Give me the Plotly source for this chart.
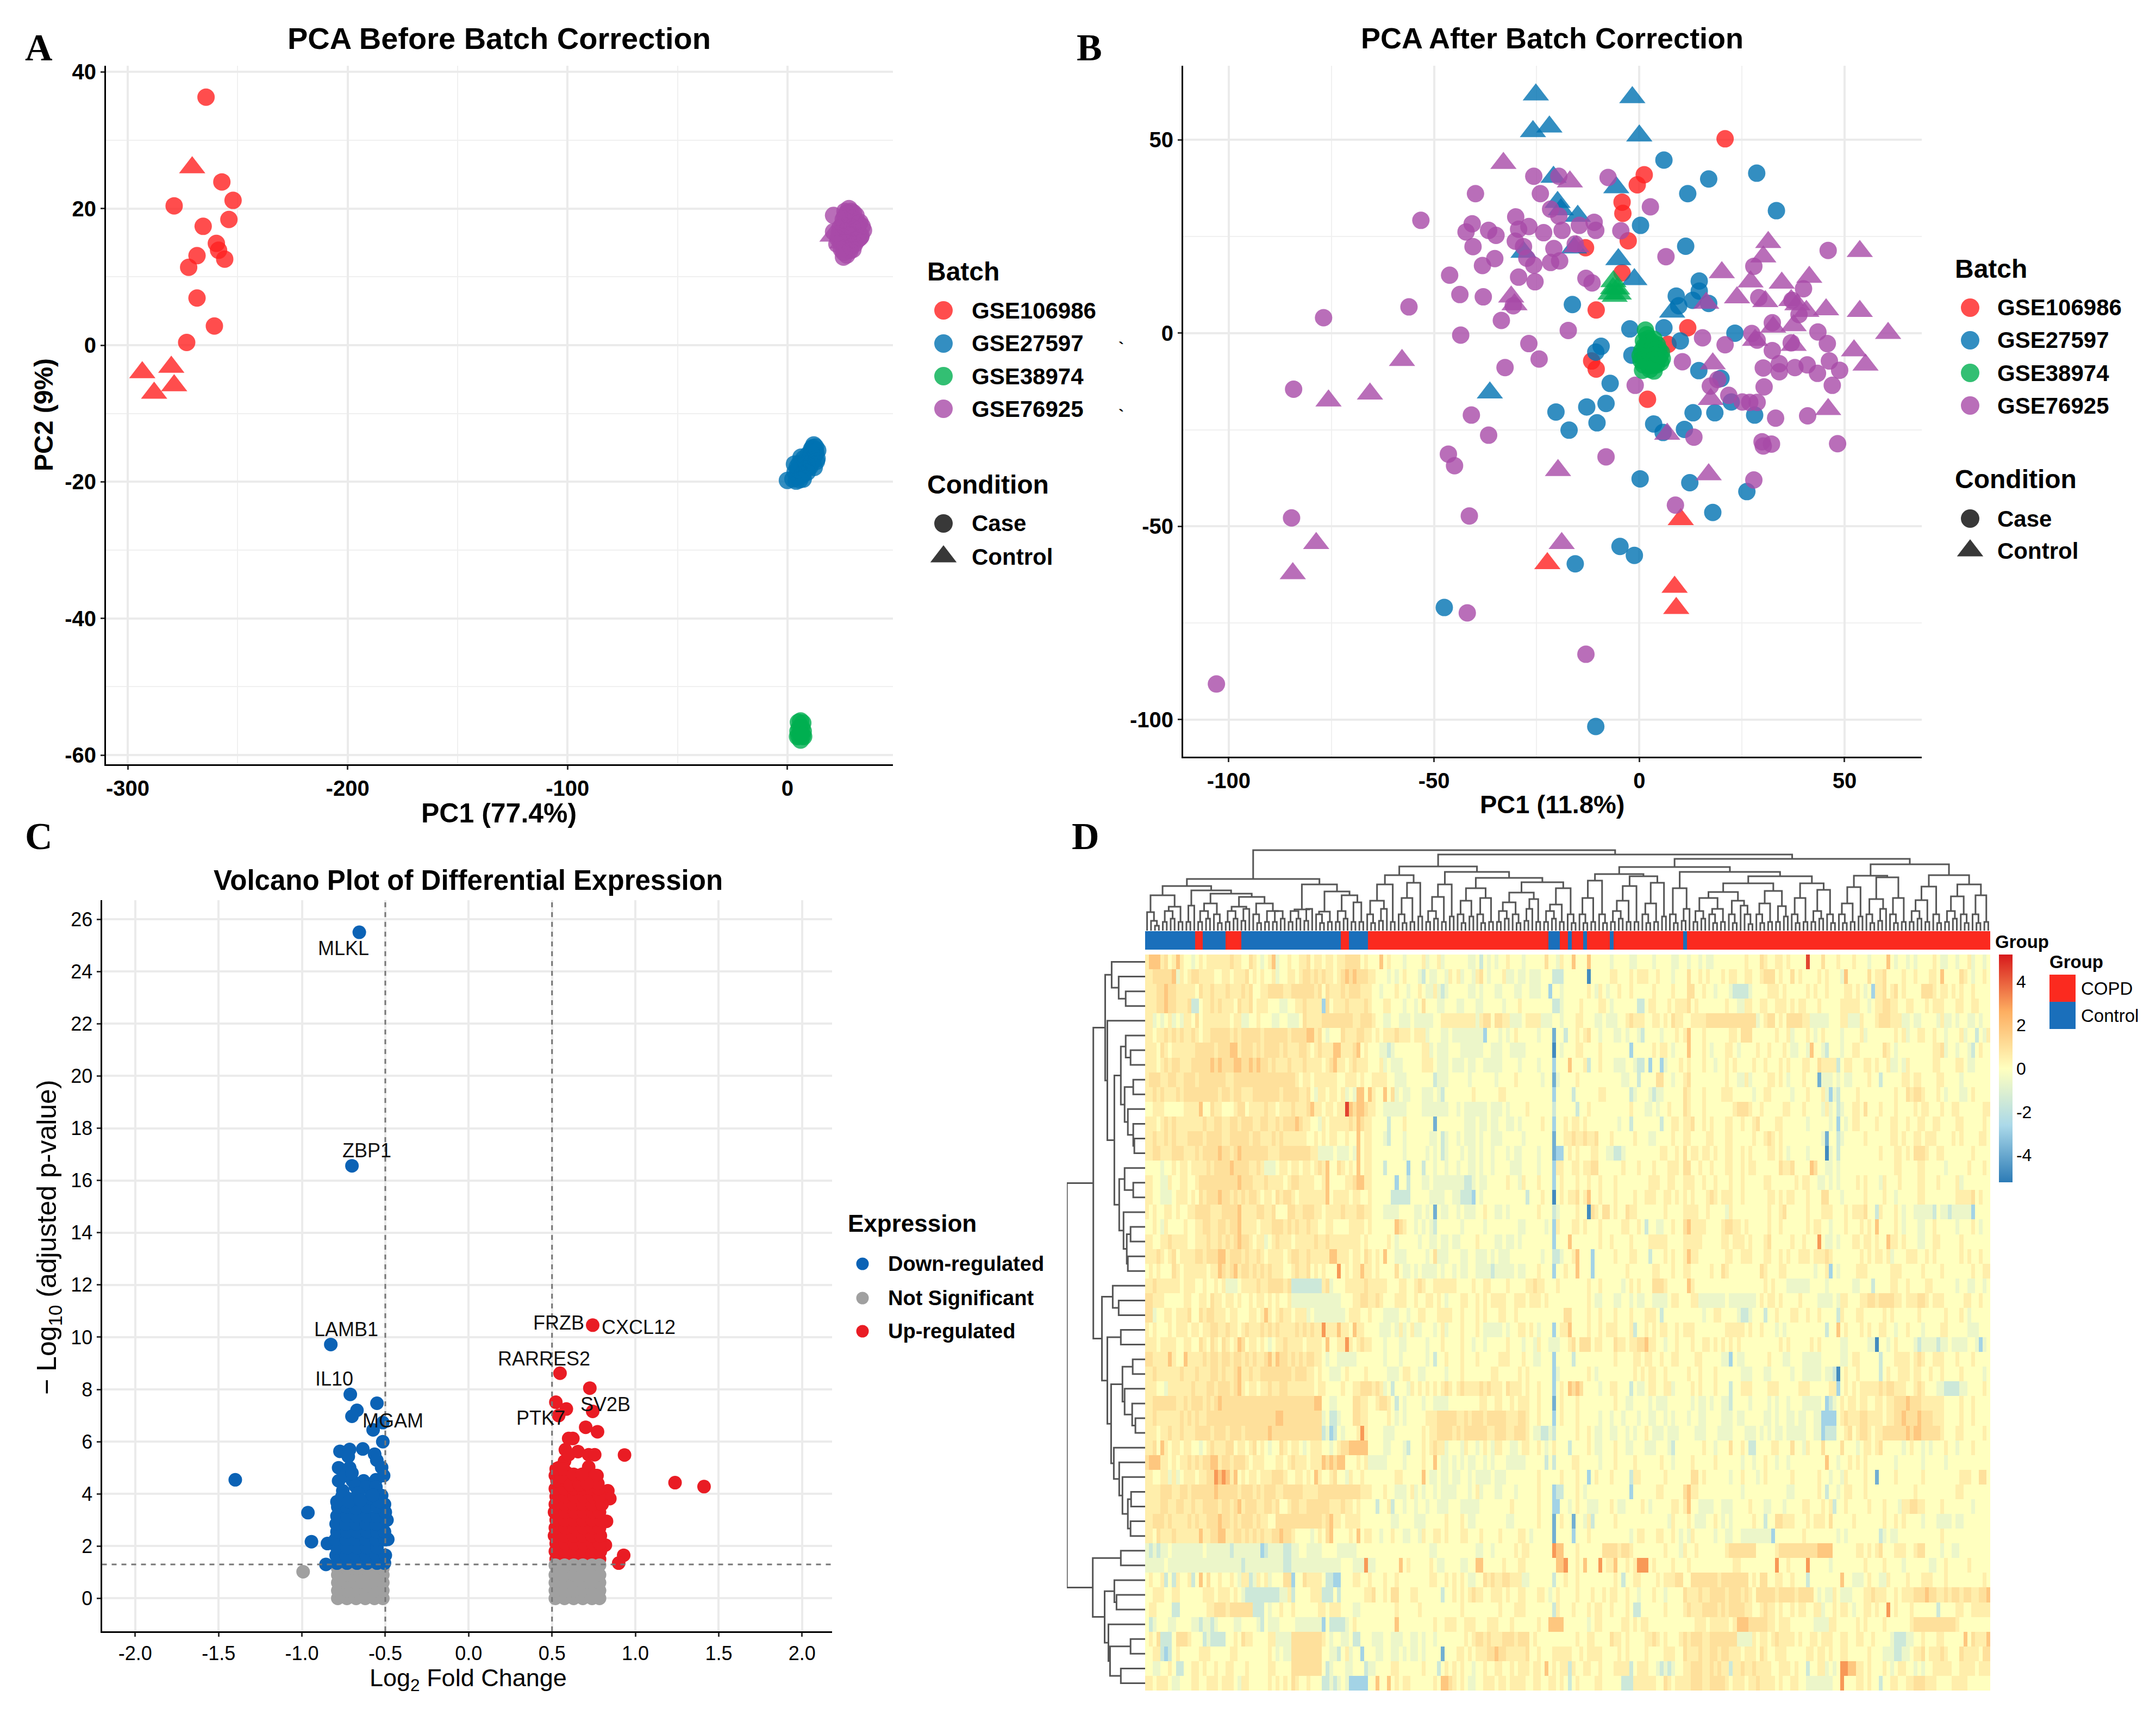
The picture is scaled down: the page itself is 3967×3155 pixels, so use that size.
import plotly.graph_objects as go

W, H = 3967, 3155
PAGE_MARGIN = 8  # the html body keeps its default margin
FIG_W, FIG_H = W - 2 * PAGE_MARGIN, H - 2 * PAGE_MARGIN
FONT = "Liberation Sans"
SERIF = "Liberation Serif"
BATCH_RED = "#ff2020"
BATCH_BLUE = "#0072b2"
BATCH_GREEN = "#00af50"
BATCH_PURPLE = "#a84aa8"

# ---------- panel A values ----------
A_RED_CIRCLE_X = [-264.4, -257.2, -252.1, -278.9, -254, -265.7, -259.7, -258.7, -268.5, -255.9, -272.3, -268.5, -260.6, -273.2]
A_RED_CIRCLE_Y = [36.3, 23.9, 21.2, 20.4, 18.4, 17.4, 14.9, 13.9, 13.1, 12.6, 11.4, 6.9, 2.8, 0.4]
A_RED_TRI_X = [-270.7, -293.4, -280.2, -288, -278.9]
A_RED_TRI_Y = [26, -4, -3.2, -7, -5.9]
A_BLUE_X = [0, 2.5, 4, 5, 3.5, 4.5, 6, 7, 5.5, 6.5, 8, 9, 7.5, 8.5, 10, 11, 9.5, 10.5, 12, 11.5, 12.5, 13, 13.5, 11, 12, 13.2, 10.2, 9, 8, 6.8, 5.6, 4.8, 7.2, 8.8, 10.8, 12.2, 6.2, 3.2, 13.8, 12.8]
A_BLUE_Y = [-19.8, -19.6, -19.9, -19.2, -18.6, -17.8, -18.4, -18.9, -17.3, -17.7, -17.4, -18, -16.6, -16.9, -16.8, -17.2, -16, -16.2, -16.4, -15, -15.4, -15.8, -16.6, -15.2, -14.6, -17, -17.8, -18.6, -18.2, -19, -19.7, -18.2, -19.6, -17.5, -15.8, -17.9, -16.4, -17.4, -15.4, -14.9]
A_GREEN_X = [5, 6, 7, 5.5, 6.5, 4.8, 7.2, 6, 5.2, 6.8, 6, 4.6, 7.4]
A_GREEN_Y = [-55.2, -55, -55.3, -56, -56, -56.5, -56.5, -57, -57.2, -57.2, -57.8, -57.3, -57.3]
A_PURPLE_X = [21, 21, 25.5, 28, 29, 27, 26, 30, 31, 25, 24, 23.5, 28.5, 27.5, 26.5, 30.5, 32, 33, 34, 34.6, 33.5, 32.5, 31, 29.5, 28, 26.8, 25.2, 24.2, 23, 22.5, 26, 27.2, 29, 30.6, 31.8, 33.2, 28.4, 27, 25.6, 24.6, 27.8, 29.6, 31.2, 32.4, 30, 26.2, 25.4, 28.8, 27.4, 29.8]
A_PURPLE_Y = [19, 16.6, 12.9, 20, 19.6, 19.4, 18.8, 18.6, 18, 17.6, 17.2, 16.4, 18, 17.4, 16.6, 17, 16.8, 18, 17.4, 16.8, 16, 15.6, 15.4, 16, 15.2, 15, 15.8, 15, 15.6, 14.8, 14.2, 14, 14.4, 14.8, 15.4, 15.8, 13.8, 13.2, 13.6, 14, 16.2, 17.2, 19, 17.8, 19.4, 19.6, 18.4, 18.6, 19.2, 14]
A_PURPLE_TRI_X = [20.5, 25, 30]
A_PURPLE_TRI_Y = [16, 15, 17]
A_X_TICKS = [-300, -200, -100, 0]
A_X_LABELS = ["-300", "-200", "-100", "0"]
A_X_MINOR = [-250, -150, -50]
A_Y_TICKS = [-60, -40, -20, 0, 20, 40]
A_Y_LABELS = ["-60", "-40", "-20", "0", "20", "40"]
A_Y_MINOR = [-50, -30, -10, 10, 30]

# ---------- panel B values ----------
B_RED_CIRCLE_X = [20.9, 1.2, -0.5, -4.2, -4, -2.7, -13.1, -4.2, -10.5, 11.8, 7, -11.6, -10.5, 2]
B_RED_CIRCLE_Y = [50.3, 41, 38.4, 33.9, 31, 23.9, 22.1, 15.6, 6, 1.4, -2.9, -7.2, -9.3, -17.1]
B_RED_TRI_X = [-22.4, 10.1, 8.6, 9]
B_RED_TRI_Y = [-59.6, -48.2, -65.7, -71.2]
B_BLUE_CIRCLE_X = [6, 16.9, 11.8, 28.6, 33.4, 0.3, 11.3, 14.6, 9, 14.6, 9.6, 13, 16.9, -16.3, -2.3, 6, 10, 23.3, -9.3, -10.6, -1.8, 14.5, 19.9, -7.1, -8.1, 22.4, -12.8, -20.3, 13.1, 18.4, 28.1, -10.3, -17.1, 3.5, 5.8, 11, 0.2, 12.3, 26.2, 17.9, -4.7, -1.2, -15.6, -47.5, -10.6]
B_BLUE_CIRCLE_Y = [44.8, 39.9, 36.1, 41.4, 31.7, 27.9, 22.5, 13.5, 9.6, 10.9, 7.1, 8.5, 7.7, 7.4, 1.1, 1.4, -2, 0, -3.4, -4.9, -5.7, -9.7, -11.7, -13, -18.2, -17.8, -19.1, -20.4, -20.6, -20.6, -21.2, -23.2, -25.1, -23.5, -25.7, -24.9, -37.7, -38.7, -41, -46.4, -55.2, -57.5, -59.7, -71, -101.8]
B_BLUE_TRI_X = [-25.2, -1.7, -25.9, -21.9, 0, -20.9, -5.6, -19.9, -19.1, -15, -15.9, -28.2, -5.1, -1.2, 8, -36.4]
B_BLUE_TRI_Y = [61.7, 61, 52.2, 53.4, 51.1, 40.4, 37.7, 33.9, 32, 30.3, 22.1, 21, 19.1, 13.9, 5.5, -15.4]
B_GREEN_CIRCLE_X = [1.5, 1.8, 2.2, 1, 2, 3, 3.6, 1.2, 2.4, 3.4, 4.4, 0.6, 1.6, 2.6, 3.8, 4.8, 5.4, 0.2, 1.4, 2.8, 4, 5, 5.6, 0.4, 1.8, 3.2, 4.4, 5.2, 1, 2.2, 3.4, 4.2, 2.6, 0.8, 3.6]
B_GREEN_CIRCLE_Y = [0.8, -0.4, -1.4, -2, -2.6, -2.2, -1.6, -3.4, -3.6, -3.2, -3, -4.6, -4.8, -4.6, -4.4, -4.2, -5, -5.8, -6, -5.8, -5.6, -6, -6.6, -7, -7.2, -7, -7, -7.6, -8.2, -8.4, -8.4, -8.2, -9.4, -9.6, -9.8]
B_GREEN_TRI_X = [-6.3, -5.4, -7, -5, -6, -6.4]
B_GREEN_TRI_Y = [13.4, 11.5, 10.2, 10.2, 9.6, 11.6]
B_PURPLE_CIRCLE_X = [-25.7, -19.6, -7.6, -39.9, -24.1, 2.7, -53.2, -40.7, -30.1, -21.6, -19.6, -11, -42.2, -36.7, -34.9, -29.4, -26.9, -23.3, -18.8, -14.6, -10.6, -4.5, -40.5, -30.2, -28.2, -20.8, -15.6, 6.5, -38.2, -35.2, -27.4, -25.7, -21.6, -19.4, -46.2, -29.4, -25.4, -13, -11.5, -43.7, -38, -30.7, -56.1, -76.9, -33.6, -43.5, -17.3, -26.9, -24.4, -32.7, 15.4, 20.9, 10.5, -1, -40.9, -36.7, -46.5, -45, -8.1, 13.3, -84.2, -84.7, -41.4, -41.9, -13, -103, 8.8, 27.9, 27.9, 46, 40, 29.1, 32.4, 27.4, 28.7, 32.4, 37, 43.5, 45.8, 38.9, 37.2, 46.3, 34.1, 30.2, 34.1, 37.9, 40.9, 43.4, 48.8, 47, 30.4, 17.3, 19.1, 21.8, 25.1, 26.9, 28.7, 33.2, 41, 29.9, 30.2, 32.2, 48.3]
B_PURPLE_CIRCLE_Y = [40.6, 40.6, 40.3, 36.1, 36.1, 32.7, 29.2, 28.3, 30.1, 32.1, 30.3, 28.7, 26.2, 26.6, 25.3, 26.9, 27.6, 26, 26.6, 27.9, 26.6, 26.5, 22.4, 23.8, 22.4, 21.9, 23.1, 19.8, 17.5, 19.3, 19.4, 17.6, 18.3, 18.7, 15, 14.5, 13.3, 14.2, 13, 10, 9.4, 7.1, 6.8, 4, 3.3, -0.5, 0.7, -2.7, -6.7, -8.9, -1.2, -3, -7.4, -13.5, -21.2, -26.4, -31.3, -34.3, -32, -26.9, -14.5, -47.8, -47.3, -72.4, -83.1, -90.8, -44.5, -38, 17.3, 21.4, 11.5, 9.2, 2.7, -0.1, -1.8, -4.5, -2.5, 0.3, -2.7, 4.8, 8.5, -7.2, -7.9, -9, -10, -8.9, -8.2, -10.4, -9.6, -13.5, -13.9, -13.7, -12, -16.1, -17.8, -17.9, -17.9, -22, -21.4, -28.1, -29.2, -28.7, -28.6]
B_PURPLE_TRI_X = [-33.1, -16.9, -57.8, -65.6, -75.7, -78.7, -84.4, -18.9, -19.8, 16.9, 6.8, 46, 17.4, 17.9, 55.1, 52.3, 60.6, 53.7, 53.7, 31.4, 30.2, 20.1, 27.1, 34.7, 41.4, 23.8, 30.7, 16.3, 37, 38.5, 40.7, 45.5, 32.6, 37.6, 28.2, 37.6, -31.2, -30.4, -15.3]
B_PURPLE_TRI_Y = [44, 39.2, -7, -15.7, -17.5, -54.4, -62.2, -54.4, -35.5, -36.6, -26.1, -19.7, -17.1, -7.9, -8.2, -4.5, 0, 5.7, 21.2, 23.5, 19.8, 15.7, 13.3, 13, 14.5, 9.2, 8.2, 7.8, 8.5, 7.4, 5.7, 6.1, 1.6, 2, -1.8, -3.1, 9.4, 7.4, 22.4]
B_X_TICKS = [-100, -50, 0, 50]
B_X_LABELS = ["-100", "-50", "0", "50"]
B_Y_TICKS = [-100, -50, 0, 50]
B_Y_LABELS = ["-100", "-50", "0", "50"]
B_MINOR = [-75, -25, 25]

BATCH_NAMES = ["GSE106986", "GSE27597", "GSE38974", "GSE76925"]
BATCH_COLORS = [BATCH_RED, BATCH_BLUE, BATCH_GREEN, BATCH_PURPLE]

# ---------- panel C values ----------
UP_X = [0.744, 0.548, 0.727, 0.523, 0.586, 0.54, 0.744, 0.702, 0.773, 0.6, 0.625, 0.935, 0.656, 0.58, 0.72, 0.756, 0.72, 1.238, 1.412, 0.835, 0.847, 0.827, 0.82, 0.93, 0.9,
        0.54, 0.575, 0.6, 0.565, 0.55, 0.77,
        0.525, 0.58, 0.635, 0.69, 0.745, 0.785,
        0.52, 0.575, 0.63, 0.685, 0.74, 0.79,
        0.525, 0.58, 0.635, 0.69, 0.745, 0.785,
        0.515, 0.575, 0.63, 0.685, 0.74, 0.79,
        0.52, 0.58, 0.635, 0.69, 0.745, 0.785,
        0.525, 0.575, 0.63, 0.685, 0.74, 0.79,
        0.515, 0.58, 0.635, 0.69, 0.745, 0.785,
        0.52, 0.575, 0.63, 0.685, 0.74, 0.8,
        0.525, 0.58, 0.635, 0.69, 0.745, 0.785,
        0.52, 0.575, 0.63, 0.685, 0.74, 0.78,
        0.53, 0.585, 0.64, 0.7, 0.75, 0.775,
        0.535, 0.59, 0.66, 0.72, 0.76,
        0.52, 0.555, 0.61, 0.665, 0.71, 0.525, 0.57, 0.63, 0.68]
UP_Y = [10.46, 8.62, 8.05, 7.51, 7.25, 7.0, 7.16, 6.55, 6.38, 6.12, 6.12, 5.49, 5.62, 5.69, 5.5, 5.5, 5.03, 4.43, 4.28, 4.12, 3.82, 2.95, 2.04, 1.65, 1.35,
        5.0, 5.25, 5.5, 4.9, 4.7, 4.7,
        1.5, 1.5, 1.5, 1.5, 1.5, 1.5,
        1.8, 1.8, 1.8, 1.8, 1.8, 1.8,
        2.1, 2.1, 2.1, 2.1, 2.1, 2.1,
        2.4, 2.4, 2.4, 2.4, 2.4, 2.4,
        2.7, 2.7, 2.7, 2.7, 2.7, 2.7,
        3.0, 3.0, 3.0, 3.0, 3.0, 3.0,
        3.3, 3.3, 3.3, 3.3, 3.3, 3.3,
        3.6, 3.6, 3.6, 3.6, 3.6, 3.6,
        3.9, 3.9, 3.9, 3.9, 3.9, 3.9,
        4.2, 4.2, 4.2, 4.2, 4.2, 4.2,
        4.5, 4.5, 4.5, 4.5, 4.5, 4.4,
        4.8, 4.8, 4.6, 4.6, 4.7,
        4.7, 4.65, 4.35, 4.35, 4.4, 4.95, 4.95, 4.75, 4.75]
NS_X = [-0.993,
        -0.785, -0.73, -0.675, -0.62, -0.565, -0.515,
        -0.785, -0.73, -0.675, -0.62, -0.565, -0.515,
        -0.785, -0.73, -0.675, -0.62, -0.565, -0.515,
        -0.785, -0.73, -0.675, -0.62, -0.565, -0.515,
        -0.785, -0.73, -0.675, -0.62, -0.565, -0.515,
        0.52, 0.575, 0.63, 0.685, 0.74, 0.785,
        0.52, 0.575, 0.63, 0.685, 0.74, 0.785,
        0.52, 0.575, 0.63, 0.685, 0.74, 0.785,
        0.52, 0.575, 0.63, 0.685, 0.74, 0.785,
        0.52, 0.575, 0.63, 0.685, 0.74, 0.785]
NS_Y = [1.02,
        0, 0, 0, 0, 0, 0,
        0.3, 0.3, 0.3, 0.3, 0.3, 0.3,
        0.6, 0.6, 0.6, 0.6, 0.6, 0.6,
        0.9, 0.9, 0.9, 0.9, 0.9, 0.9,
        1.15, 1.15, 1.15, 1.15, 1.15, 1.15,
        0, 0, 0, 0, 0, 0,
        0.3, 0.3, 0.3, 0.3, 0.3, 0.3,
        0.6, 0.6, 0.6, 0.6, 0.6, 0.6,
        0.9, 0.9, 0.9, 0.9, 0.9, 0.9,
        1.27, 1.27, 1.27, 1.27, 1.27, 1.27]
DOWN_X = [-0.656, -0.70, -0.827, -0.71, -0.55, -0.67, -0.70, -0.515, -0.573, -0.515, -1.40, -0.964, -0.943, -0.847, -0.856,
          -0.772, -0.714, -0.722, -0.635, -0.564, -0.551, -0.522, -0.78, -0.714, -0.78, -0.697, -0.63, -0.556, -0.755, -0.68, -0.614, -0.556, -0.522, -0.73, -0.664,
          -0.79, -0.73, -0.67, -0.61, -0.55, -0.505,
          -0.795, -0.735, -0.675, -0.615, -0.555, -0.5,
          -0.79, -0.73, -0.67, -0.61, -0.55, -0.485,
          -0.8, -0.735, -0.675, -0.615, -0.555, -0.5,
          -0.79, -0.73, -0.67, -0.61, -0.55, -0.505,
          -0.795, -0.735, -0.675, -0.615, -0.555, -0.49,
          -0.79, -0.73, -0.67, -0.61, -0.55, -0.5,
          -0.785, -0.73, -0.675, -0.61, -0.55, -0.505,
          -0.79, -0.74, -0.7, -0.59, -0.535, -0.51, -0.76, -0.72, -0.65, -0.575]
DOWN_Y = [25.5, 16.56, 9.72, 7.81, 7.47, 7.2, 6.97, 6.73, 6.45, 6.0, 4.54, 3.28, 2.17, 2.1, 1.3,
          5.63, 5.7, 5.43, 5.72, 5.52, 5.29, 5.01, 5.0, 5.0, 4.5, 4.5, 4.5, 4.54, 4.12, 4.3, 4.26, 4.26, 3.94, 3.84, 4.03,
          1.35, 1.35, 1.35, 1.35, 1.35, 1.35,
          1.65, 1.65, 1.65, 1.65, 1.65, 1.65,
          1.95, 1.95, 1.95, 1.95, 1.95, 2.26,
          2.25, 2.25, 2.25, 2.25, 2.25, 2.25,
          2.55, 2.55, 2.55, 2.55, 2.55, 2.55,
          2.85, 2.85, 2.85, 2.85, 2.85, 3.0,
          3.15, 3.15, 3.15, 3.15, 3.15, 3.3,
          3.5, 3.5, 3.45, 3.5, 3.5, 3.6,
          3.7, 4.7, 4.8, 3.85, 3.7, 4.7, 3.9, 3.7, 3.75, 3.95]
GENE_LABELS = ["MLKL", "ZBP1", "LAMB1", "IL10", "MGAM", "FRZB", "CXCL12", "RARRES2", "PTK7", "SV2B"]
GENE_X = [-0.752, -0.611, -0.735, -0.806, -0.453, 0.54, 1.018, 0.453, 0.432, 0.822]
GENE_Y = [24.89, 17.14, 10.29, 8.40, 6.81, 10.55, 10.39, 9.18, 6.9, 7.42]
LOGFC_CUTS = [-0.5, 0.5]
PADJ_CUT = 1.3
C_X_TICKS = [-2.0, -1.5, -1.0, -0.5, 0.0, 0.5, 1.0, 1.5, 2.0]
C_X_LABELS = ["-2.0", "-1.5", "-1.0", "-0.5", "0.0", "0.5", "1.0", "1.5", "2.0"]
C_Y_TICKS = [0, 2, 4, 6, 8, 10, 12, 14, 16, 18, 20, 22, 24, 26]
EXPRESSION_NAMES = ["Down-regulated", "Not Significant", "Up-regulated"]
EXPRESSION_COLORS = ["#0b62b5", "#a0a0a0", "#e91c24"]

# ---------- panel D values ----------
# one digit per cell, read by eye: see LEVELS for the value of each digit
LEVELS = {"0": -4.8, "1": -3.8, "2": -2.8, "3": -1.6, "4": -0.6, "5": 0.0, "6": 0.55, "7": 1.0, "8": 1.8, "9": 3.0, "x": 4.5}
HEAT_ROWS = [
    "6888675686 5545656666 6676655765 4568455655 6675665665 6677775655 5856555455 5564556455 5555445354 5455655545 5555755465 5855585555 5455554455 5545555445 5455454455 5555556555 7655665655 55x5557555 6555655545 5558545545 4555565445 5455645545",
    "6677777846 5677666655 6656667565 6556455665 6776767665 6787877766 5554545655 5435445546 5645546754 5556445445 4445553335 5555505555 5665556566 6556555455 5755656555 6566556655 6777565575 6555565655 5485555575 6675555655 6555665855 5576545565",
    "6667787766 6665766766 6766676755 6677776677 7777675766 6767776665 5455565545 5654464345 5555445455 5445554455 4445525545 5555565465 4556556555 5565555655 5775565545 5543333455 5566656555 5565655655 5566565452 6675675655 5577765665 6565565555",
    "6667787766 6733566767 6665766756 6655544556 6766662756 6676666765 5566555455 4575554455 5445554455 5554555655 5555553345 5556555566 5455555533 5665556566 6756555555 5655446655 6655666565 6655565555 5666665545 6677665566 5556566655 5665566555",
    "6645456454 6657566666 6656644556 5554455444 5766667777 7777667776 5544554445 4444455666 6666664677 5776644456 6664445545 5566555445 4445567666 5566565766 5566667777 7777777774 5677565777 7664444455 5664446555 6777666445 4455554644 5455445455",
    "6656676767 6676566777 7767677777 6777777677 7788675455 5766677665 6566676665 6664555445 4444444425 5545456555 5545551553 5565675545 5544545543 5555455565 6855565555 5566577755 5555655645 5565456555 5455556455 5555565645 5665565545 5564553546",
    "6665765666 6667777767 7788677767 6777767666 7765676668 8666785655 5443455555 5566454445 5544444455 4445544445 5555550545 5566555565 5555552555 5565665455 5855565455 5665455556 5565556544 5548554355 5455665555 5576545555 5555566745 5455435655",
    "6665676776 6677777878 7778877878 7767666766 6766665678 6656766655 5645444555 5566654445 4445445544 4445555455 5545552555 8555635565 5544455433 5255245556 5655565545 5656555565 5655565655 5665576666 3566555665 6556445465 5555566555 5665445555",
    "6777667766 7776777777 7667777777 7777777776 5665666666 5566656556 6665544455 5555534445 5555455555 5455556555 5554551455 5565555555 5555445535 5557755455 6755555555 5655446455 5566565455 5655514445 4544555565 5355555665 6655556655 5545555555",
    "6676766676 7777777776 7767766677 7777767777 6675466566 5645488586 5585745445 5544454355 5555565555 5566555555 5555552555 5355555566 5555553455 5434455555 7655565555 6665555545 5665555545 5565556424 3555565555 5555565576 7765556545 5544565555",
    "5566655555 6666855766 5556775666 6766566676 6678665665 66x8788766 5544444455 5544444445 5454444445 4445455556 5555553555 5535565555 5555556555 4454556555 7655565555 5556777655 6555556655 5655554645 3455665755 5655565555 6566555655 6655555566",
    "6665676766 6666676677 6677677766 7766767778 7665546566 6667687665 5553555655 5555515555 5554445445 4455445455 5556552556 5665655555 5554553555 5555355665 6675565655 5665565567 5555665555 5545555545 2545665555 6555665565 5665566555 5665555565",
    "6676676766 6777767777 6677777677 6667676666 6655656566 5565585665 5543555455 5555445345 5454445455 4445555545 5555551556 6766766755 5655555655 5445555655 6655556655 5665555565 5676565555 5555554155 3455555655 5555665655 6656665555 6565555665",
    "6677666777 6667677778 7767877777 7766677777 7776644445 4445485665 5555555455 5554545345 5545445455 4555454455 5545551225 6565556655 4433455555 5555665565 7566566565 5665565655 5566565455 5545555045 3555555555 5655566565 7776556655 5555565555",
    "5555455656 6566667677 7787777667 6444566566 5665676855 7656585665 5535555525 5535545545 5455445455 4555544455 5545552665 5665667755 5555655565 5565556665 7755655655 5665565665 5555576675 5558755445 4555555555 5555566555 5665555545 5555655565",
    "6655446556 6556777777 7777877766 6766665677 6666556855 5566788665 5555525535 5544544444 4443345445 5555655465 5565552565 5565565565 5565555555 5666556655 6665565565 5565565555 5665555556 5665544545 4555565655 5465556555 5665556555 5645555555",
    "6655444566 6565767778 7767676776 5665767765 6666666856 6665665565 5555333335 5555444455 4433325455 5555555553 5556550565 6675685565 5565555655 6665566565 6565556765 6665565555 5566565665 5565557755 5455555655 5565545555 5665555555 5666675655",
    "6565566565 5667777666 7777866667 7667555776 6777665666 6766677665 5544445555 4454515445 5454445565 5445455555 5565553455 5565507657 7565576655 5555565555 6666556555 5465555555 5565567555 5565556665 5565666755 3655565455 4444435443 4444425555",
    "5565465555 6556677667 7677866665 6667776767 6676655665 5556666565 5555587655 4545435555 5545555545 5555555445 5555452655 5665655565 5555665565 3554455655 7866665555 6776656555 5565565555 5565665545 5565556565 8555565455 5445565555 5455565455",
    "6655667666 6556667667 6767877656 6456766656 6666766766 6666665655 5556545555 5455445445 4455556555 5445445455 5555552555 8555555565 5655556555 5666665555 6666655555 6656665655 5675555565 5655595445 4555665665 6558665655 5445566555 5565555555",
    "6667656756 6667767778 8677767667 6566665677 6676666688 6665665765 6585544455 5554574445 5544554445 4544455555 5554553345 5685552555 5565556655 5355565655 6866555555 5665566655 5665565655 6665666765 5555556565 6656455566 6556565555 5565655655",
    "5656555765 6666665668 7678677676 7676665567 6675656555 9565668665 6555575445 4544445455 4544554444 3444445445 5565552556 5585552555 5555565555 5566555655 6655555655 7655555555 7655566555 5555455625 4555566655 5555666555 5565555655 5555565566",
    "6676666665 6665565565 6444566667 6677776733 3333336745 5566666766 6665556655 6765566666 6555565566 5555655556 6766555655 5555565565 5555456565 5577765555 5865555555 5555555555 5656555444 4445555455 5555445553 5555665565 5556655555 5455445545",
    "7766655555 6655665766 5665655656 6565655644 4444444444 4555667766 7655566655 6556656545 5566556565 6666556665 6665655555 5555565445 5544554544 5544445665 5566444444 4544444445 6566565555 6555544445 4665556677 6777766566 6776566655 5556655655",
    "7745566566 6755767766 6566555665 6865676656 6645444444 4456665565 5544445545 5665556666 5565556565 5566556555 5555555557 7555565565 5565556555 6665355555 5555545566 5555433455 5355655566 5565565555 3655566555 5565655555 5655555565 5565455555",
    "6565556566 6566566776 6766567666 7676766667 6767669666 8665866555 5444546456 4455545645 5565556544 4445455665 6545552566 8555565565 6665556355 6565665565 6665555555 5666665655 6555454555 5555555355 8565556565 5665545565 5545555665 5555444555",
    "6665666655 6655765765 7656875665 6545667666 6566665855 6696567665 5545554455 5554555655 5565545545 5555655545 5465544455 6757775665 5576656677 8665545565 5565566565 6565655555 5555565655 5556565555 5445555544 0554565555 4344443445 4444554245",
    "7766668655 8666676776 7767767676 6786877676 7677665455 4444455555 5545554555 5554535565 5565556555 5566655565 5445552555 5355555555 5565555665 6655655665 5556655555 4425445555 5565554455 5444445555 5445665555 5355566665 6765566655 5655565555",
    "6676666667 6667666776 7667866766 7777777767 7766565544 4565555655 5554445665 5445555545 5565555555 6655555656 5555552455 5555565455 5555555656 5665565555 5655655565 5555544455 5445555545 5444445443 0565565555 5356556665 6655655655 5565555545",
    "6665546666 6676667767 7767865665 6676677666 6666566555 5655667776 7645355546 5656565676 5676666767 6665766656 5565552565 8787555545 5665553544 5665566455 5565655565 5535566655 5566655555 6665555566 2565656666 6767766655 6765554433 3344555565",
    "6677777766 7677767678 7777777777 7777777777 7777885544 5555776655 6776535455 5545544445 5555555665 5665565666 5565551565 5565555555 5565544555 5454445555 5545445455 4435555455 5545455455 5444445234 5656656655 6656677787 7766666655 5565565555",
    "6676666667 6767667777 7777777777 7777887777 7777774533 4555776655 5556545455 5556667777 7667677767 7777666776 5565552565 5565555545 5455455545 5445545455 5455445555 4445445555 5445455445 4455442222 5676667766 6656677877 7877766655 5565565555",
    "6665667667 6667777677 7677767777 7787777777 7777773423 5455569655 5544455555 5565667777 6767777776 6777667776 5443343555 5565565445 5445545455 6544454445 5554445554 4445554445 4545445444 4455442333 5567567765 6677777787 8877777655 5665555565",
    "6675865665 6655456766 6775665675 6545576566 5456665545 6778888855 5544555435 5565676645 5546554565 4665544566 5565456555 3555565445 5565544555 4445554355 5555565545 5575565335 5556655575 5465557555 5755545665 6755555456 5545455565 5455565555",
    "7888665656 6767677886 7767776566 6555665676 6656668787 8855565644 4445555455 5565585445 4545445545 4555444445 5555353555 5665555545 5565555655 5555655455 5565555565 5555545545 5655455455 5555555855 4556565655 5555545555 5545555545 5555555555",
    "6655664645 6665667798 9868565665 6667776556 6565865567 5546556555 5555566555 5585445445 4455454444 5444555555 5565555565 5565525655 5655553665 5555565555 5577565555 5545565554 5655555565 5555565545 5465555655 1555565555 5565555555 5566655775",
    "6666777667 7677777787 7777677767 6777667777 7666677777 7777776665 5565544456 4545545444 4555456455 5445554555 5565552335 5565455555 5555552555 5556655555 7866555555 5555545555 5555555445 5555565355 4566555655 5555555555 6555555555 5665555555",
    "6666776677 6676677776 7767867776 6776755677 6677777766 6766565555 3556355455 4554554445 5544444555 5555565555 5565552255 4565544455 5654455556 5455555665 6855444455 4445555655 5445554555 5665556563 5565555565 5565554667 7665555655 5555545555",
    "6677767666 6767667778 7767677767 6655777777 7777776786 6566665555 5555445555 4445555565 5565445555 5555445555 5565551565 5155463555 5565555555 5555554655 5654445565 4545555565 5355776665 5565666575 5555655555 5565565655 5545554444 5445555555",
    "6657666766 6666866778 8667767676 7667787765 5554565785 5556585665 5455655445 5465566565 5566555655 5565555665 4555551555 5255565555 5555554566 5556655654 5465555545 5445544444 4442555555 5655555555 4545555555 5345445555 5555555655 5555555555",
    "4343445444 4444454444 4434444444 2344443344 5544445555 4444455555 5555555555 5555445555 5555554455 4555556566 5555559885 5565555557 7776776555 5555565554 6556555555 5677777775 5555677777 7777788885 5555566565 6755566655 6775555455 4455555555",
    "4444454444 4444444444 4444434444 4444443344 4444444444 4555444944 5555558565 5555654455 5544558855 5556555665 5555555889 5565855595 6685565699 9565555655 5655555555 5556655555 5555955655 5595555545 5555555655 5565555455 5555445565 5555655555",
    "5655635365 5635857556 5565466346 5645557725 5766665332 2555665565 5565565555 5555665565 6565445576 7667766644 5555553556 5565555555 5565355665 5556566677 5577777776 7777777565 7755665565 5535555555 5855444565 5446555565 5566655565 5555555565",
    "5566655665 5555566656 6656543333 3333344635 5556663335 3555555667 5565775556 6555555355 6565676655 6665655665 5566545655 5565556556 5665565545 5565545555 7666766777 7677767657 7777677776 7777545446 5444555667 6665565666 7778776676 7767766778",
    "5665555335 5555556677 7677777733 3545565565 5555566566 6555445555 5555565555 5655555555 5565555555 5565556665 5555553655 5655565665 5655565335 5555565555 6766677776 7677776655 6766565565 6655664556 5665455665 6559565556 5555553555 5665566666",
    "5345554455 5544344345 5554455554 3544455554 4444442533 3345655555 5555585555 5555565566 6556665556 6655565555 5565588885 5555545665 5555665656 6555555555 5556665666 6656888777 7766566655 5555444466 5555565655 5565555556 7777777777 7655555555",
    "5657333577 7655534333 3556576655 5566444477 7777776545 5445335554 4455444554 4545545555 5556567767 6667776777 5655555555 5565566555 5766565555 6676565556 7677766777 7777444465 6656766665 6556656665 5665566556 5555433344 5565556655 5558576668",
    "5566323565 5555666555 5566555555 5565454477 7777775544 3564552555 4455445454 4545555155 5665656667 7877666667 5565556666 6556566665 5556565555 6555566655 7666766776 7766656665 7655666555 5566566565 5665555565 5544433445 6675666765 5576666577",
    "5544556533 5566565565 5665556555 5566555577 7777775345 5544555344 5555665555 5565553565 6565545565 5665565666 5665856566 3655665565 5566663566 6554343455 6677766767 6636676676 6665566656 5535566454 5998866565 5565456655 4545566666 5566665666",
    "6656665445 5566556665 6665466555 5565656576 5565553343 4542222255 8558565665 5555565887 6565445566 6566566665 5665566565 3565555665 5555333666 6665576566 6677766777 7656665667 6666565566 5544444445 5955566565 5355665566 7776665555 6666555555",
]
HEAT_COLS = 220
# samples per run along the annotation strip
GROUP_RUNS = [("Control", 13), ("COPD", 2), ("Control", 6), ("COPD", 4), ("Control", 26), ("COPD", 2), ("Control", 5),
              ("COPD", 47), ("Control", 3), ("COPD", 2), ("Control", 1), ("COPD", 3), ("Control", 1), ("COPD", 6),
              ("Control", 1), ("COPD", 18), ("Control", 1), ("COPD", 79)]
HEAT_TICKS = [-4, -2, 0, 2, 4]
HEAT_LABELS = ["-4", "-2", "0", "2", "4"]

# dendrograms as (height, left, right), 0 is a leaf
T2 = (16, 0, 0)
T2b = (26, 0, 0)
T3 = (30, 0, (14, 0, 0))
T3b = (40, (18, 0, 0), 0)
T4 = (36, (16, 0, 0), (22, 0, 0))
T4b = (46, 0, (30, 0, (12, 0, 0)))
DENDRO_TOP = (148,
    (95,
        (82,
            (65, (34, 0, (18, 0, (9, 0, 0))), (44, T4, T2)),
            (74, (46, T2, 0), (68, (50, T4, T3), (62, (44, T4, T3b), (50, T3, (36, T2, T4)))))),
        (85, (39, T4, T3b), (72, (35, T3, T2), (65, T4, (52, T2, T2))))),
    (140,
        (118,
            (102, (85, (55, T3, T3b), T2), (88, (60, T3, T2), T2b)),
            (108, (85, (62, T4, T2), T2b),
                (97, (78, (55, T3, T2b), (60, T3, T2)),
                    (89, (70, (52, T4, T3), (58, T3b, T2)), (78, (48, T4, T2), T3))))),
        (132,
            (117,
                (104, (92, (60, T3, T2), T3),
                    (100, (82, (55, T4, T2), T2), (88, (50, T3, T2), T2b))),
                (108, (78, T3, T3b),
                    (100,
                        (87, (71, (60, T4, (40, T3, T2)), (55, T3, T4b)), (73, (50, T3, T2), (45, T2, T2b))),
                        (87, (60, T3, T2), (75, T4, T3))))),
            (122,
                (101, (80, (50, T3, T2), T2b), (98, (58, T3, T3b), (60, T3, T2))),
                (102, (81, (56, T4, T2), T3), (85, (63, T4, T3), (65, T3, T2)))))))
DENDRO_LEFT = (145,
    (96,
        (74,
            (62, 0, (49, 0, (36, 0, 0))),
            (70, 0,
                (57,
                    (45, (36, 0, (27, 0, 0)), (38, (22, 0, 0), (32, 0, (22, 0, (20, 0, 0))))),
                    (48, (38, 0, (22, 0, 0)), (40, 0, (34, (27, 0, 0), (32, 0, 0))))))),
        (80,
            (60, 0, (49, 0, 0)),
            (70, (45, 0, 0),
                (63,
                    (42, (23, 0, 0), (38, 0, (24, 0, (18, 0, 0)))),
                    (58, 0, (48, 0, (42, 0, (32, (26, 0, 0), (27, 0, 0))))))))),
    (97,
        (45, 0, 0),
        (75,
            (57, 0, (53, 0, 0)),
            (68, 0, (65, (27, 0, 0), (45, 0, 0))))))


def fx(a):
    return (a - PAGE_MARGIN) / FIG_W


def fy(b):
    return 1 - (b - PAGE_MARGIN) / FIG_H


def x_dom(a, b):
    return [fx(a), fx(b)]


def y_dom(top, bottom):
    return [fy(bottom), fy(top)]


def walk(node, xs, hs, counter):
    # returns centre position and height, appends the U of each merge
    if node == 0:
        counter[0] += 1
        return counter[0] - 0.5, 0
    h, left, right = node
    pl, hl = walk(left, xs, hs, counter)
    pr, hr = walk(right, xs, hs, counter)
    xs.extend([pl, pl, pr, pr, None])
    hs.extend([hl, h, h, hr, None])
    return (pl + pr) / 2, h


fig = go.Figure()
annotations = []


def text(x, y, s, size, bold=False, anchor="left", angle=0, family=FONT, color="black"):
    annotations.append(dict(xref="paper", yref="paper", x=fx(x), y=fy(y), text=f"<b>{s}</b>" if bold else s,
                            showarrow=False, xanchor=anchor, yanchor="middle", textangle=angle,
                            font=dict(size=size, family=family, color=color),
                            borderpad=0, borderwidth=0))


def scatter(x, y, color, symbol, size, opacity, ax):
    fig.add_trace(go.Scatter(x=x, y=y, mode="markers", xaxis=ax[0], yaxis=ax[1], hoverinfo="skip",
                             marker=dict(color=color, symbol=symbol, size=size, opacity=opacity, line=dict(width=0))))


GRID = "#ebebeb"
CIRCLE, TRI = 32, 42

A = ("x", "y")
scatter(A_RED_CIRCLE_X, A_RED_CIRCLE_Y, BATCH_RED, "circle", CIRCLE, 0.8, A)
scatter(A_RED_TRI_X, A_RED_TRI_Y, BATCH_RED, "triangle-up", TRI, 0.8, A)
scatter(A_BLUE_X, A_BLUE_Y, BATCH_BLUE, "circle", CIRCLE, 0.8, A)
scatter(A_GREEN_X, A_GREEN_Y, BATCH_GREEN, "circle", CIRCLE, 0.8, A)
scatter(A_PURPLE_X, A_PURPLE_Y, BATCH_PURPLE, "circle", CIRCLE, 0.8, A)
scatter(A_PURPLE_TRI_X, A_PURPLE_TRI_Y, BATCH_PURPLE, "triangle-up", TRI, 0.8, A)

B = ("x2", "y2")
scatter(B_RED_CIRCLE_X, B_RED_CIRCLE_Y, BATCH_RED, "circle", CIRCLE, 0.8, B)
scatter(B_RED_TRI_X, B_RED_TRI_Y, BATCH_RED, "triangle-up", TRI, 0.8, B)
scatter(B_BLUE_CIRCLE_X, B_BLUE_CIRCLE_Y, BATCH_BLUE, "circle", CIRCLE, 0.8, B)
scatter(B_BLUE_TRI_X, B_BLUE_TRI_Y, BATCH_BLUE, "triangle-up", TRI, 0.8, B)
scatter(B_PURPLE_CIRCLE_X, B_PURPLE_CIRCLE_Y, BATCH_PURPLE, "circle", CIRCLE, 0.8, B)
scatter(B_PURPLE_TRI_X, B_PURPLE_TRI_Y, BATCH_PURPLE, "triangle-up", TRI, 0.8, B)
scatter(B_GREEN_CIRCLE_X, B_GREEN_CIRCLE_Y, BATCH_GREEN, "circle", CIRCLE, 0.8, B)
scatter(B_GREEN_TRI_X, B_GREEN_TRI_Y, BATCH_GREEN, "triangle-up", TRI, 0.8, B)

C = ("x3", "y3")
scatter(UP_X, UP_Y, EXPRESSION_COLORS[2], "circle", 25, 1, C)
scatter(NS_X, NS_Y, EXPRESSION_COLORS[1], "circle", 25, 1, C)
scatter(DOWN_X, DOWN_Y, EXPRESSION_COLORS[0], "circle", 25, 1, C)

# heatmap, its strip and the two trees
heat_z = [[LEVELS[c] for c in row.replace(" ", "")[:HEAT_COLS]] for row in HEAT_ROWS]
fig.add_trace(go.Heatmap(z=heat_z, xaxis="x4", yaxis="y4", zmin=-5.25, zmax=5.25, hoverinfo="skip",
                         colorscale=[[0, "#2c7bb6"], [0.25, "#abd9e9"], [0.5, "#ffffbf"], [0.75, "#fdae61"], [1, "#d7191c"]],
                         colorbar=dict(x=fx(3678), xanchor="left", y=fy(1756), yanchor="top", len=419 / FIG_H,
                                       thickness=25, thicknessmode="pixels", xpad=0, ypad=0, outlinewidth=0,
                                       tickvals=HEAT_TICKS, ticktext=HEAT_LABELS, ticks="",
                                       tickfont=dict(size=32, family=FONT, color="black"))))

strip = []
for name, count in GROUP_RUNS:
    strip += [1 if name == "COPD" else 0] * count
fig.add_trace(go.Heatmap(z=[strip], xaxis="x5", yaxis="y5", zmin=0, zmax=1, showscale=False, hoverinfo="skip",
                         colorscale=[[0, "#1a6fbb"], [1, "#fb2a1f"]]))

xs, hs, counter = [], [], [0]
walk(DENDRO_TOP, xs, hs, counter)
fig.add_trace(go.Scatter(x=xs, y=hs, mode="lines", xaxis="x6", yaxis="y6", hoverinfo="skip",
                         line=dict(color="#555555", width=3)))
top_leaves = counter[0]

xs, hs, counter = [], [], [0]
walk(DENDRO_LEFT, xs, hs, counter)
fig.add_trace(go.Scatter(x=hs, y=xs, mode="lines", xaxis="x7", yaxis="y7", hoverinfo="skip",
                         line=dict(color="#555555", width=3)))
left_leaves = counter[0]

# legend keys live on a full page axis in pixels
KEY = ("x8", "y8")
for i, y in enumerate([571, 632, 692, 752]):
    scatter([1736], [y], BATCH_COLORS[i], "circle", 34, 0.8, KEY)
    text(1788, y, BATCH_NAMES[i], 42, True)
for i, y in enumerate([566, 626, 686, 746]):
    scatter([3625], [y], BATCH_COLORS[i], "circle", 34, 0.8, KEY)
    text(3675, y, BATCH_NAMES[i], 42, True)
for x, ys in ((1736, (963, 1024)), (3625, (954, 1013))):
    scatter([x], [ys[0]], "#222222", "circle", 34, 0.9, KEY)
    scatter([x], [ys[1]], "#222222", "triangle-up", 42, 0.9, KEY)
for i, y in enumerate([2325, 2388, 2449]):
    scatter([1587], [y], EXPRESSION_COLORS[i], "circle", 23, 1, KEY)
    text(1634, y, EXPRESSION_NAMES[i], 38, True)

text(1706, 499, "Batch", 48, True)
text(1706, 891, "Condition", 48, True)
text(1788, 963, "Case", 42, True)
text(1788, 1024, "Control", 42, True)
text(3597, 494, "Batch", 48, True)
text(3597, 881, "Condition", 48, True)
text(3675, 954, "Case", 42, True)
text(3675, 1013, "Control", 42, True)
text(1560, 2250, "Expression", 44, True)

text(918, 70, "PCA Before Batch Correction", 56, True, "center")
text(2856, 70, "PCA After Batch Correction", 54, True, "center")
text(861, 1619, "Volcano Plot of Differential Expression", 51, True, "center")
text(918, 1496, "PC1 (77.4%)", 50, True, "center")
text(80, 763, "PC2 (9%)", 48, True, "center", -90)
text(2856, 1480, "PC1 (11.8%)", 47, True, "center")
text(861, 3089, "Log<sub>2</sub> Fold Change", 45, False, "center")
text(89, 2276, "\u2212 Log<sub>10</sub> (adjusted p-value)", 50, False, "center", -90)
text(71, 87, "A", 70, True, "center", family=SERIF)
text(2005, 87, "B", 70, True, "center", family=SERIF)
text(71, 1538, "C", 70, True, "center", family=SERIF)
text(1997, 1538, "D", 70, True, "center", family=SERIF)
text(3671, 1732, "Group", 33, True)
text(3771, 1769, "Group", 33, True)
text(3829, 1818, "COPD", 33)
text(3829, 1868, "Control", 33)
text(2063, 640, "`", 30, True, "center")
text(2063, 763, "`", 30, True, "center")

for gene, gx, gy in zip(GENE_LABELS, GENE_X, GENE_Y):
    annotations.append(dict(xref="x3", yref="y3", x=gx, y=gy, text=gene, showarrow=False,
                            font=dict(size=36, family=FONT, color="#111111")))

shapes = [
    dict(type="rect", xref="paper", yref="paper", x0=fx(3771), x1=fx(3819), y0=fy(1843), y1=fy(1793),
         fillcolor="#fb2a1f", line=dict(width=0)),
    dict(type="rect", xref="paper", yref="paper", x0=fx(3771), x1=fx(3819), y0=fy(1893), y1=fy(1843),
         fillcolor="#1a6fbb", line=dict(width=0)),
]
cut_line = dict(color="#777777", width=3, dash="dash")
for cut in LOGFC_CUTS:
    shapes.append(dict(type="line", xref="x3", yref="y3", x0=cut, x1=cut, y0=-1.26, y1=26.73, line=cut_line))
shapes.append(dict(type="line", xref="x3", yref="y3", x0=-2.2, x1=2.18, y0=PADJ_CUT, y1=PADJ_CUT, line=cut_line))


def data_axis(dom, rng, vals, labels, size, bold, anchor, minor=None):
    ax = dict(domain=dom, range=rng, tickmode="array", tickvals=vals, ticktext=[f"<b>{t}</b>" for t in labels] if bold else labels,
              tickfont=dict(size=size, family=FONT, color="black"), showgrid=True, gridcolor=GRID, gridwidth=4,
              zeroline=False, showline=True, linecolor="black", linewidth=3, ticks="outside", ticklen=7, tickwidth=3,
              tickcolor="#333333", anchor=anchor)
    if minor:
        ax["minor"] = dict(showgrid=True, gridcolor="#f0f0f0", gridwidth=2, tickvals=minor, ticks="")
    return ax


hidden = dict(visible=False, showgrid=False, zeroline=False)
fig.update_layout(
    width=FIG_W, height=FIG_H, margin=dict(l=0, r=0, t=0, b=0, pad=0, autoexpand=False), autosize=False,
    paper_bgcolor="white", plot_bgcolor="rgba(0,0,0,0)", showlegend=False,
    font=dict(family=FONT, color="black"),
    annotations=annotations, shapes=shapes,
    xaxis=data_axis(x_dom(195, 1643), [-309.9, 48], A_X_TICKS, A_X_LABELS, 40, True, "y", A_X_MINOR),
    yaxis=data_axis(y_dom(121, 1406), [-61.35, 40.9], A_Y_TICKS, A_Y_LABELS, 40, True, "x", A_Y_MINOR),
    xaxis2=data_axis(x_dom(2177, 3536), [-111.1, 68.8], B_X_TICKS, B_X_LABELS, 40, True, "y2", B_MINOR),
    yaxis2=data_axis(y_dom(121, 1392), [-109.6, 69.2], B_Y_TICKS, B_Y_LABELS, 40, True, "x2", B_MINOR),
    xaxis3=data_axis(x_dom(187.5, 1531), [-2.2, 2.18], C_X_TICKS, C_X_LABELS, 36, False, "y3"),
    yaxis3=data_axis(y_dom(1656, 3001), [-1.26, 26.73], C_Y_TICKS, [str(t) for t in C_Y_TICKS], 36, False, "x3"),
    xaxis4=dict(hidden, domain=x_dom(2107, 3662), range=[-0.5, HEAT_COLS - 0.5], anchor="y4"),
    yaxis4=dict(hidden, domain=y_dom(1756, 3110), range=[len(HEAT_ROWS) - 0.5, -0.5], anchor="x4"),
    xaxis5=dict(hidden, domain=x_dom(2107, 3662), range=[-0.5, HEAT_COLS - 0.5], anchor="y5"),
    yaxis5=dict(hidden, domain=y_dom(1713, 1747), range=[-0.5, 0.5], anchor="x5"),
    xaxis6=dict(hidden, domain=x_dom(2107, 3662), range=[0, top_leaves], anchor="y6"),
    yaxis6=dict(hidden, domain=y_dom(1562, 1712), range=[0, 150], anchor="x6"),
    xaxis7=dict(hidden, domain=x_dom(1963, 2107), range=[145, 0], anchor="y7"),
    yaxis7=dict(hidden, domain=y_dom(1756, 3110), range=[left_leaves, 0], anchor="x7"),
    xaxis8=dict(hidden, domain=[0, 1], range=[PAGE_MARGIN, W - PAGE_MARGIN], anchor="y8"),
    yaxis8=dict(hidden, domain=[0, 1], range=[H - PAGE_MARGIN, PAGE_MARGIN], anchor="x8"),
)

fig.write_html("out.html")
